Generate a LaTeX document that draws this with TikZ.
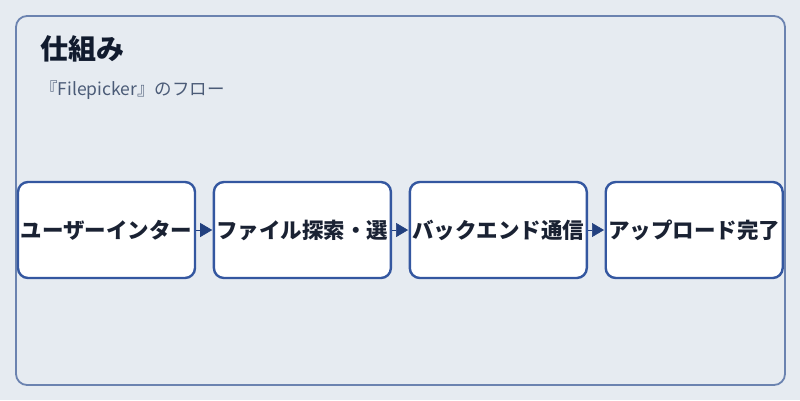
\documentclass[tikz,border=0pt]{standalone}
\usepackage{fontspec}
\setmainfont{Noto Sans CJK JP}
\usetikzlibrary{arrows.meta, positioning}

\definecolor{pagebg}{HTML}{E6EBF1}
\definecolor{framecol}{HTML}{6B83B0}
\definecolor{boxcol}{HTML}{3457A0}
\definecolor{arrowcol}{HTML}{22407F}
\definecolor{titlecol}{HTML}{111B2E}
\definecolor{subcol}{HTML}{4B5B77}
\definecolor{textcol}{HTML}{1A2233}

\begin{document}
\begin{tikzpicture}[
        x=1pt, y=-1pt,
        node distance=1cm and 16.5pt,
        frame/.style={draw=framecol, line width=1.8pt, rounded corners=11pt},
        title/.style={inner sep=0pt, font=\fontsize{28}{32}\selectfont\bfseries, text=titlecol},
        subtitle/.style={inner sep=0pt, font=\fontsize{17.5}{20}\selectfont, text=subcol},
        stepbox/.style={rectangle, draw=boxcol, fill=white, line width=2.4pt, rounded corners=10pt, minimum width=177pt, minimum height=96pt, inner sep=0pt, align=center, font=\fontsize{21.5}{24}\selectfont\bfseries, text=textcol},
        arrow/.style={-{Triangle[length=12pt, width=14pt]}, draw=arrowcol, fill=arrowcol, line width=0.6pt, shorten >=0.5pt}
    ]

        % Page and frame
        \useasboundingbox[fill=pagebg] (0,0) rectangle (800,400);
        \draw [frame] (16,16) rectangle (785,385);

        % 1. Heading
        \node (title) [title, anchor=base west] at (40,59) {仕組み};
        \node (subtitle) [subtitle, below=36pt of title.base west, anchor=base west] {『Filepicker』のフロー};

        % 2. Flow steps
        \node (ui) [stepbox] at (106.5,230) {ユーザーインター};
        \node (search) [stepbox, right=of ui] {ファイル探索・選};
        \node (backend) [stepbox, right=of search] {バックエンド通信};
        \node (done) [stepbox, right=of backend] {アップロード完了};

        % Connections
        \draw [arrow] (ui) -- (search);
        \draw [arrow] (search) -- (backend);
        \draw [arrow] (backend) -- (done);

    \end{tikzpicture}
\end{document}
